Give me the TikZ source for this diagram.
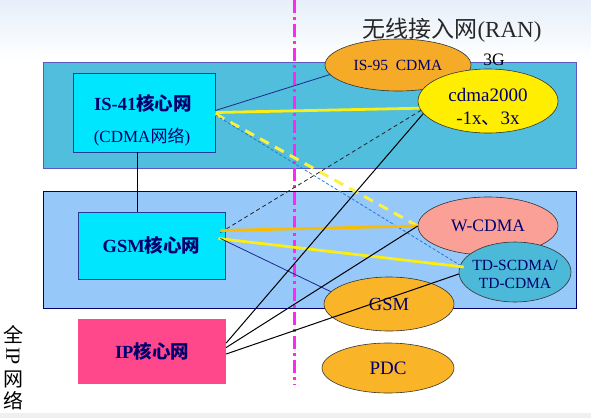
\documentclass[tikz,border=0pt]{standalone}
\usepackage{fontspec}
\setmainfont{Liberation Serif}
\newfontfamily\cjkfont{Noto Sans CJK SC}
\newcommand{\zh}[1]{{\cjkfont #1}}
\usepackage{tikz}
\usetikzlibrary{shapes.geometric}

\definecolor{bgtop}{RGB}{230,239,250}
\definecolor{bgbot}{RGB}{238,240,244}
\definecolor{bandone}{RGB}{80,190,220}
\definecolor{bandbd}{RGB}{90,90,190}
\definecolor{bandtwo}{RGB}{150,200,250}
\definecolor{corefill}{RGB}{0,230,255}
\definecolor{corebd}{RGB}{40,60,150}
\definecolor{ipfill}{RGB}{255,72,140}
\definecolor{navy}{RGB}{0,0,110}
\definecolor{isc}{RGB}{245,170,40}
\definecolor{cdmac}{RGB}{255,238,0}
\definecolor{wcdmac}{RGB}{250,160,150}
\definecolor{tdc}{RGB}{75,185,215}
\definecolor{gsmc}{RGB}{250,180,40}
\definecolor{divc}{RGB}{255,40,240}
\definecolor{yelc}{RGB}{250,238,20}
\definecolor{orc}{RGB}{250,188,0}
\definecolor{thinb}{RGB}{30,40,140}
\definecolor{dotb}{RGB}{40,120,210}

\tikzset{
  core/.style={draw=corebd, fill=corefill, line width=0.9pt, inner sep=0pt},
  ipcore/.style={fill=ipfill, inner sep=0pt},
  corelbl/.style={text=navy, font=\fontsize{18.5}{21}\selectfont\bfseries},
  sublbl/.style={text=navy, font=\fontsize{17}{20}\selectfont},
  ran/.style={ellipse, draw=black!80, line width=0.6pt, inner sep=0pt, text=navy, align=center},
  divider/.style={draw=divc, line width=3pt, dash pattern=on 13pt off 4pt on 3pt off 4pt},
  thinlink/.style={draw=thinb, line width=0.8pt},
  yellink/.style={draw=yelc, line width=2.8pt},
  orlink/.style={draw=orc, line width=2.8pt},
  yeldash/.style={draw=yelc!80!white, line width=3pt, dash pattern=on 10pt off 7pt},
  dotlink/.style={draw=dotb, line width=0.8pt, dash pattern=on 3pt off 2pt},
  blkdash/.style={draw=black!85, line width=0.8pt, dash pattern=on 4pt off 3pt},
  blklink/.style={draw=black, line width=1pt},
}

\begin{document}
\begin{tikzpicture}[x=1pt,y=-1pt]
\useasboundingbox (0,0) rectangle (591,418);
\shade[top color=bgtop, bottom color=white] (0,0) rectangle (591,60);
\fill[bgbot] (0,413) rectangle (591,418);

% two network bands
\draw[draw=bandbd, fill=bandone, line width=0.8pt] (43,62) rectangle (576,168);
\draw[draw=navy, fill=bandtwo, line width=0.8pt] (43,191) rectangle (576,308);

\coordinate (divtop) at (294,0);
\coordinate (divbot) at (294,385);
\draw[divider] (divtop) -- (divbot);

% core networks
\node[core, minimum width=142, minimum height=79] (is41) at (144,112.5) {};
\node[corelbl] (is41txt) at (143,103) {IS-41\zh{核心网}};
\node[sublbl] (is41sub) at (142,137) {(CDMA\zh{网络})};
\node[core, corelbl, minimum width=147, minimum height=67] (gsm) at (151.5,245.5) {GSM\zh{核心网}};
\node[ipcore, corelbl, minimum width=148, minimum height=65] (ip) at (152,351.5) {IP\zh{核心网}};
\draw[line width=0.8pt] ([xshift=-7pt]is41.south) -- ([xshift=-7pt]is41.south |- gsm.north);

% radio access networks
\node[font=\fontsize{23}{25}\selectfont, text=black!85] (rantitle) at (452,30) {\zh{无线接入网}(RAN)};
\node[font=\fontsize{17.5}{20}\selectfont] (thrg) at (494,60) {3G};
\node[ran, fill=isc, minimum width=146, minimum height=52, font=\fontsize{15.5}{18}\selectfont] (is95) at (398,65) {IS-95\ \ CDMA};
\node[ran, fill=cdmac, minimum width=140, minimum height=64] (cdma) at (488,101) {};
\node[text=navy, align=center, font=\fontsize{19}{23}\selectfont] (cdmatxt) at (488,106.5) {cdma2000\\-1x\zh{、}3x};
\node[ran, fill=wcdmac, minimum width=140, minimum height=58, font=\fontsize{17.5}{20}\selectfont] (wcdma) at (488,226) {W-CDMA};
\node[ran, fill=tdc, minimum width=112, minimum height=60] (td) at (515,272) {};
\node[text=navy, align=center, font=\fontsize{15.5}{18}\selectfont] (tdtxt) at (515,274) {TD-SCDMA/\\TD-CDMA};
\node[ran, fill=gsmc, minimum width=130, minimum height=54, font=\fontsize{18.5}{20}\selectfont] (gsmran) at (389,304) {GSM};
\node[ran, fill=gsmc, minimum width=132, minimum height=50, font=\fontsize{19}{21}\selectfont] (pdc) at (388,368) {PDC};

% all-IP label
\node[font=\fontsize{20}{22}\selectfont\cjkfont] (quan) at (13,335) {全};
\node[font=\fontsize{20}{22}\selectfont, rotate=-90] (iptxt) at (13,356) {IP};
\node[font=\fontsize{20}{22}\selectfont\cjkfont] (wang) at (13,379) {网};
\node[font=\fontsize{20}{22}\selectfont\cjkfont] (luo) at (13,401) {络};

% links
\draw[thinlink] ([yshift=2pt]is41.east) -- (is95.188);
\draw[yellink] (is41.east) -- (cdma.186);
\draw[yeldash] ([yshift=-1.5pt]is41.east) -- (wcdma.west);
\draw[dotlink] ([yshift=-2.5pt]is41.east) -- (td.173);
\draw[blkdash] ([xshift=-5pt,yshift=13pt]gsm.east) -- (cdma.188);
\draw[orlink] ([xshift=-5pt,yshift=15pt]gsm.east) -- (wcdma.west);
\draw[yellink] ([xshift=-7pt,yshift=7pt]gsm.east) -- ([xshift=5pt,yshift=5pt]td.west);
\draw[thinlink] ([xshift=-5pt,yshift=7pt]gsm.east) -- (gsmran.168);
\draw[blklink] ([yshift=8.5pt]ip.east) -- (cdma.191);
\draw[blklink] ([yshift=4pt]ip.east) -- (wcdma.west);
\draw[blklink] ([yshift=-2.5pt]ip.east) -- (td.182);
\end{tikzpicture}
\end{document}
